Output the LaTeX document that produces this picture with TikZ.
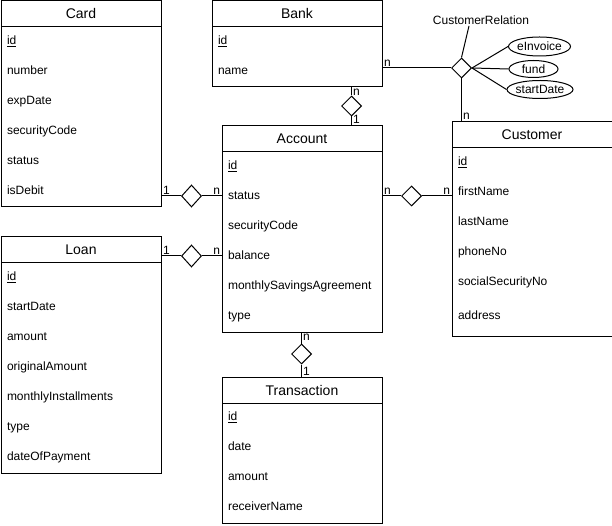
\documentclass[tikz,border=0pt]{standalone}
\usepackage{fontspec}
\setmainfont{Liberation Sans}
\usetikzlibrary{shapes.geometric}

\begin{document}
\begin{tikzpicture}[x=1pt, y=-1pt, line width=1pt,
    entity/.style={rectangle, draw, anchor=north west,
                   minimum width=160, inner sep=0},
    head/.style={rectangle, draw, anchor=north,
                 minimum width=160, minimum height=26,
                 font=\fontsize{14}{16}\selectfont},
    attr/.style={anchor=base west, inner sep=0,
                 font=\fontsize{12}{14}\selectfont},
    rel/.style={diamond, draw, fill=white, inner sep=0,
                minimum width=20, minimum height=20},
    prop/.style={ellipse, draw, inner sep=0,
                 font=\fontsize{12}{14}\selectfont},
    mult/.style={inner sep=1, font=\fontsize{12}{14}\selectfont}
    ]

    \useasboundingbox (0,0) rectangle (612,526);

    %entities
    \node[entity, minimum height=206] (card) at (0.5,0.5) {};
    \node[head] (cardhead) at (card.north) {Card};
    \node[attr] (cardid) at ([shift={(6,44)}]card.north west) {\underline{id}};
    \node[attr] (cardnum) at ([shift={(6,74)}]card.north west) {number};
    \node[attr] (cardexp) at ([shift={(6,104)}]card.north west) {expDate};
    \node[attr] (cardsec) at ([shift={(6,134)}]card.north west) {securityCode};
    \node[attr] (cardstat) at ([shift={(6,164)}]card.north west) {status};
    \node[attr] (carddeb) at ([shift={(6,194)}]card.north west) {isDebit};

    \node[entity, minimum width=170, minimum height=86] (bank) at (211.5,0.5) {};
    \node[head, minimum width=170] (bankhead) at (bank.north) {Bank};
    \node[attr] (bankid) at ([shift={(6,44)}]bank.north west) {\underline{id}};
    \node[attr] (bankname) at ([shift={(6,74)}]bank.north west) {name};

    \node[entity, minimum height=206] (acc) at (221.5,125.5) {};
    \node[head] (acchead) at (acc.north) {Account};
    \node[attr] (accid) at ([shift={(6,44)}]acc.north west) {\underline{id}};
    \node[attr] (accstat) at ([shift={(6,74)}]acc.north west) {status};
    \node[attr] (accsec) at ([shift={(6,104)}]acc.north west) {securityCode};
    \node[attr] (accbal) at ([shift={(6,134)}]acc.north west) {balance};
    \node[attr] (accmsa) at ([shift={(6,164)}]acc.north west) {monthlySavingsAgreement};
    \node[attr] (acctype) at ([shift={(6,194)}]acc.north west) {type};

    \node[entity, minimum height=214] (cust) at (451.5,121.5) {};
    \node[head] (custhead) at (cust.north) {Customer};
    \node[attr] (custid) at ([shift={(6,44)}]cust.north west) {\underline{id}};
    \node[attr] (custfirst) at ([shift={(6,74)}]cust.north west) {firstName};
    \node[attr] (custlast) at ([shift={(6,104)}]cust.north west) {lastName};
    \node[attr] (custphone) at ([shift={(6,134)}]cust.north west) {phoneNo};
    \node[attr] (custssn) at ([shift={(6,164)}]cust.north west) {socialSecurityNo};
    \node[attr] (custaddr) at ([shift={(6,198)}]cust.north west) {address};

    \node[entity, minimum height=236] (loan) at (0.5,236.5) {};
    \node[head] (loanhead) at (loan.north) {Loan};
    \node[attr] (loanid) at ([shift={(6,44)}]loan.north west) {\underline{id}};
    \node[attr] (loanstart) at ([shift={(6,74)}]loan.north west) {startDate};
    \node[attr] (loanamt) at ([shift={(6,104)}]loan.north west) {amount};
    \node[attr] (loanorig) at ([shift={(6,134)}]loan.north west) {originalAmount};
    \node[attr] (loaninst) at ([shift={(6,164)}]loan.north west) {monthlyInstallments};
    \node[attr] (loantype) at ([shift={(6,194)}]loan.north west) {type};
    \node[attr] (loanpay) at ([shift={(6,224)}]loan.north west) {dateOfPayment};

    \node[entity, minimum height=146] (trans) at (221.5,376.5) {};
    \node[head] (transhead) at (trans.north) {Transaction};
    \node[attr] (transid) at ([shift={(6,44)}]trans.north west) {\underline{id}};
    \node[attr] (transdate) at ([shift={(6,74)}]trans.north west) {date};
    \node[attr] (transamt) at ([shift={(6,104)}]trans.north west) {amount};
    \node[attr] (transrecv) at ([shift={(6,134)}]trans.north west) {receiverName};

    %relations
    \node[rel, minimum height=22] (cardacc) at (191.5,196) {};
    \node[rel, minimum height=22] (loanacc) at (191.5,256) {};
    \node[rel] (bankacc) at (351.5,106) {};
    \node[rel] (acctrans) at (301.5,354) {};
    \node[rel] (acccust) at (411.5,196) {};
    \node[rel] (bankcust) at (461.5,68) {};

    \node[mult] (custrel) at (481,20) {CustomerRelation};
    \node[prop, minimum width=62, minimum height=19] (einv) at (539.5,46.5) {\makebox[0pt]{eInvoice}};
    \node[prop, minimum width=49, minimum height=17] (fund) at (533.5,69) {\makebox[0pt]{fund}};
    \node[prop, minimum width=66, minimum height=18] (start) at (540,89.5) {\makebox[0pt]{startDate}};

    %connectors
    \draw (card.east |- cardacc) node[mult, above right] {1} -- (cardacc.west);
    \draw (cardacc.east) -- (acc.west |- cardacc) node[mult, above left] {n};
    \draw (loan.east |- loanacc) node[mult, above right] {1} -- (loanacc.west);
    \draw (loanacc.east) -- (acc.west |- loanacc) node[mult, above left] {n};
    \draw (bankacc |- bank.south) node[mult, below right] {n} -- (bankacc.north);
    \draw (bankacc.south) -- (bankacc |- acc.north) node[mult, above right] {1};
    \draw (acctrans |- acc.south) node[mult, below right] {n} -- (acctrans.north);
    \draw (acctrans.south) -- (acctrans |- trans.north) node[mult, above right] {1};
    \draw (acc.east |- acccust) node[mult, above right] {n} -- (acccust.west);
    \draw (acccust.east) -- (cust.west |- acccust) node[mult, above left] {n};
    \draw (bank.east |- bankcust) node[mult, above right] {n} -- (bankcust.west);
    \draw (bankcust.south) -- (bankcust |- cust.north) node[mult, above right] {n};
    \draw (bankcust.north) -- ([xshift=-12]custrel.south);
    \draw (bankcust.east) -- (einv.west);
    \draw (bankcust.east) -- (fund.west);
    \draw (bankcust.east) -- (start.west);

\end{tikzpicture}
\end{document}
